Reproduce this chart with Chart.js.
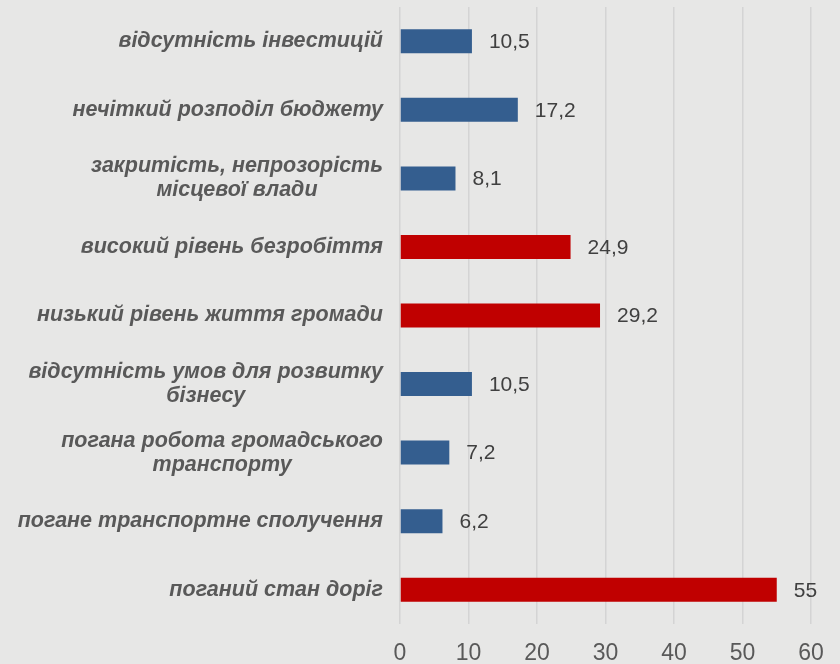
<!DOCTYPE html>
<html>
<head>
<meta charset="utf-8">
<script src="https://cdn.jsdelivr.net/npm/chart.js@4"></script>
<style>
   html, body { margin:0; padding:0; background:#e7e7e6; }
   #chartBox { width:840px; height:664px; }
</style>
</head>
<body>
<div id="chartBox"><canvas id="myBarChart"></canvas></div>
<script>
// 데이터
var categories = [
   ["відсутність інвестицій"],
   ["нечіткий розподіл бюджету"],
   ["закритість, непрозорість", "місцевої влади"],
   ["високий рівень безробіття"],
   ["низький рівень життя громади"],
   ["відсутність умов для розвитку", "бізнесу"],
   ["погана робота громадського", "транспорту"],
   ["погане транспортне сполучення"],
   ["поганий стан доріг"]
];
var values = [10.5, 17.2, 8.1, 24.9, 29.2, 10.5, 7.2, 6.2, 55];
var highlight = [false, false, false, true, true, false, false, false, true];
var xTicks = [0, 10, 20, 30, 40, 50, 60];

var blueColor = "#345e8f";
var redColor = "#c00000";

// 왼쪽 카테고리 라벨 (줄마다 가운데 정렬)
var categoryLabels = {
   id : 'categoryLabels',
   afterDraw : function(chart){
      var ctx = chart.ctx;
      var yScale = chart.scales.y;
      ctx.save();
      ctx.font = "italic bold 21.5px 'Liberation Sans', Arial, sans-serif";
      ctx.fillStyle = "#595959";
      ctx.textBaseline = "middle";
      ctx.textAlign = "center";
      for(var i=0; i<categories.length; i++){
         var lines = categories[i];
         var yc = yScale.getPixelForValue(i);
         var widest = 0;
         for(var j=0; j<lines.length; j++){
            widest = Math.max(widest, ctx.measureText(lines[j]).width);
         }
         var cx = 383 - widest/2;
         var lh = 24;
         var top = yc - (lines.length-1)*lh/2;
         for(var j=0; j<lines.length; j++){
            ctx.fillText(lines[j], cx, top + j*lh);
         }
      }
      ctx.restore();
   }
};

// 막대 오른쪽 값 표시
var valueLabels = {
   id : 'valueLabels',
   afterDatasetsDraw : function(chart){
      var ctx = chart.ctx;
      var meta = chart.getDatasetMeta(0);
      ctx.save();
      ctx.font = "21px 'Liberation Sans', Arial, sans-serif";
      ctx.fillStyle = "#404040";
      ctx.textBaseline = "middle";
      ctx.textAlign = "left";
      meta.data.forEach(function(bar, i){
         ctx.fillText(String(values[i]).replace(".", ","), bar.x + 17, bar.y + 1);
      });
      ctx.restore();
   }
};

function makeChartBar(){
   var ctx = document.getElementById('myBarChart').getContext('2d');
   var myChart = new Chart(ctx, {
      type : 'bar',
      data : {
         labels : categories,
         datasets : [
            {
               data : values,
               backgroundColor : highlight.map(function(h){ return h ? redColor : blueColor; }),
               borderWidth : 0,
               barPercentage : 0.35,
               categoryPercentage : 1
            }
         ]
      },
      options : {
         indexAxis : 'y',
         responsive : true,
         maintainAspectRatio : false,
         animation : false,
         layout : { padding : { top : 7, right : 29, bottom : 0, left : 0 } },
         plugins : {
            legend : { display : false },
            tooltip : { enabled : false }
         },
         scales : {
            x : {
               min : 0,
               max : 60,
               afterBuildTicks : function(scale){
                  scale.ticks = xTicks.map(function(v){ return { value : v }; });
               },
               grid : { color : "#d4d4d4", lineWidth : 1.5, drawTicks : false },
               border : { display : false },
               ticks : {
                  color : "#595959",
                  font : { family : "'Liberation Sans', Arial, sans-serif", size : 23 },
                  padding : 16
               },
               afterFit : function(scale){ scale.height = 40; }
            },
            y : {
               grid : { display : false },
               border : { display : false },
               ticks : { display : false },
               afterFit : function(scale){ scale.width = 400; }
            }
         }
      },
      plugins : [categoryLabels, valueLabels]
   });
}

makeChartBar();
</script>
</body>
</html>
